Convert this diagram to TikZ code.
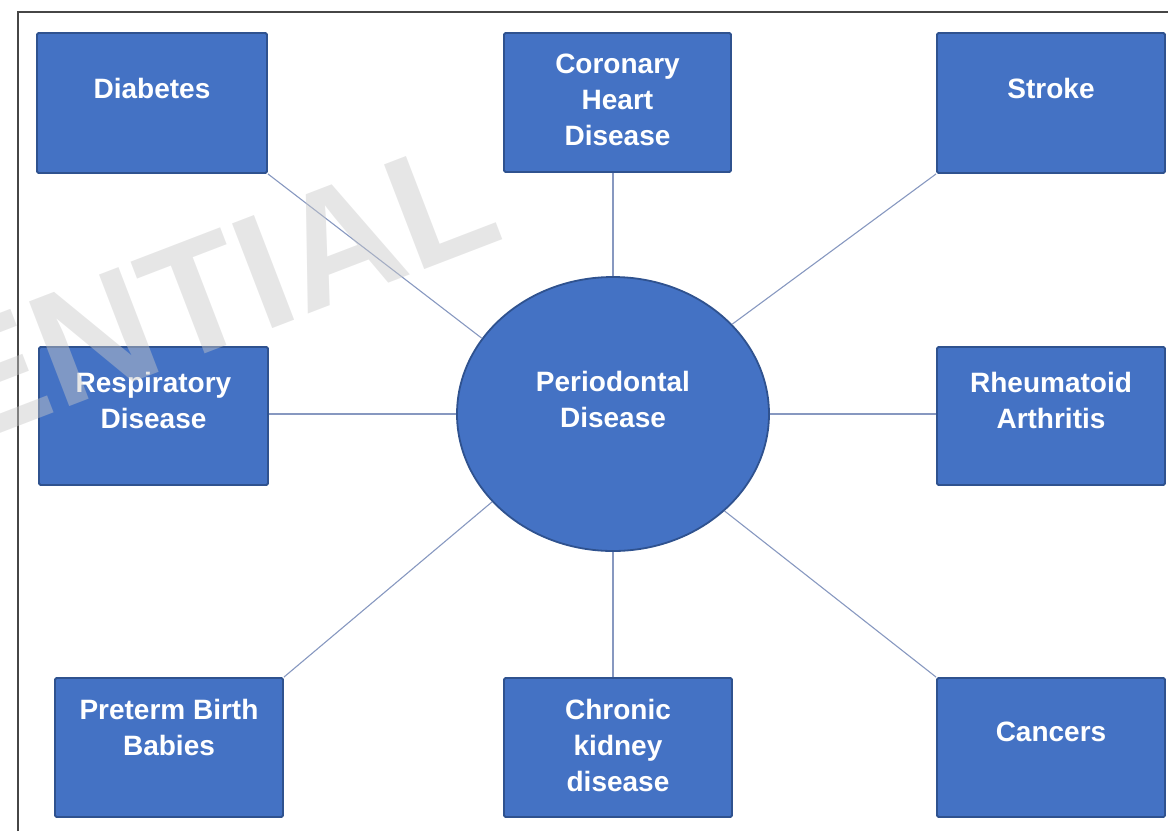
\documentclass[tikz,border=0pt]{standalone}
\usepackage{fontspec}
\setmainfont{Liberation Sans}
\usetikzlibrary{shapes.geometric}
\definecolor{boxfill}{HTML}{4472C4}
\definecolor{boxline}{HTML}{2F528F}
\definecolor{conn}{RGB}{135,152,192}
\definecolor{frameline}{RGB}{70,70,70}
\definecolor{wmark}{RGB}{200,200,200}
\tikzset{
  dbox/.style={draw=boxline, line width=1.8pt, fill=boxfill, rounded corners=1.5pt, inner sep=0pt},
  dtext/.style={text=white, font=\fontsize{28}{36}\selectfont\bfseries, align=center, inner sep=0pt},
  hub/.style={ellipse, draw=boxline, line width=1.8pt, fill=boxfill, inner sep=0pt, minimum width=312pt, minimum height=274pt},
  link/.style={draw=conn, line width=1.1pt},
}
\begin{document}
\begin{tikzpicture}[x=1pt,y=-1pt]
\useasboundingbox (0,0) rectangle (1168,831);
\draw[frameline, line width=1.4pt] (18,831) -- (18,12) -- (1168,12);
% hub
\node[hub] (pd) at (613,414) {};
\node[dtext] (pdT) at (613,399) {Periodontal\\Disease};
% boxes
\node[dbox, minimum width=230pt, minimum height=140pt] (dia) at (152,103) {};
\node[dbox, minimum width=227pt, minimum height=139pt] (chd) at (617.5,102.5) {};
\node[dbox, minimum width=228pt, minimum height=140pt] (str) at (1051,103) {};
\node[dbox, minimum width=229pt, minimum height=138pt] (res) at (153.5,416) {};
\node[dbox, minimum width=228pt, minimum height=138pt] (rhe) at (1051,416) {};
\node[dbox, minimum width=228pt, minimum height=139pt] (pre) at (169,747.5) {};
\node[dbox, minimum width=228pt, minimum height=139pt] (ckd) at (618,747.5) {};
\node[dbox, minimum width=228pt, minimum height=139pt] (can) at (1051,747.5) {};
% texts
\node[dtext] (diaT) at (152,88) {Diabetes};
\node[dtext] (chdT) at (617.5,100) {Coronary\\Heart\\Disease};
\node[dtext] (strT) at (1051,88) {Stroke};
\node[dtext] (resT) at (153.5,400) {Respiratory\\Disease};
\node[dtext] (rheT) at (1051,400) {Rheumatoid\\Arthritis};
\node[dtext] (preT) at (169,727) {Preterm Birth\\Babies};
\node[dtext] (ckdT) at (618,745) {Chronic\\kidney\\disease};
\node[dtext] (canT) at (1051,732) {Cancers};
% connectors
\draw[link] (dia.south east) -- (pd.150);
\draw[link] (str.south west) -- (pd.37);
\draw[link] (pre.north east) -- (pd.216);
\draw[link] (can.north west) -- (pd.319);
\draw[link] (pd.north) -- (pd.north |- chd.south);
\draw[link] (pd.south) -- (pd.south |- ckd.north);
\draw[link] (pd.west) -- (pd.west -| res.east);
\draw[link] (pd.east) -- (pd.east -| rhe.west);
% watermark
\node[text=wmark, opacity=0.45, font=\fontsize{163}{163}\selectfont\bfseries, anchor=base east, rotate=21, inner sep=0pt] (wm) at (508,238) {ENTIAL};
\end{tikzpicture}
\end{document}
